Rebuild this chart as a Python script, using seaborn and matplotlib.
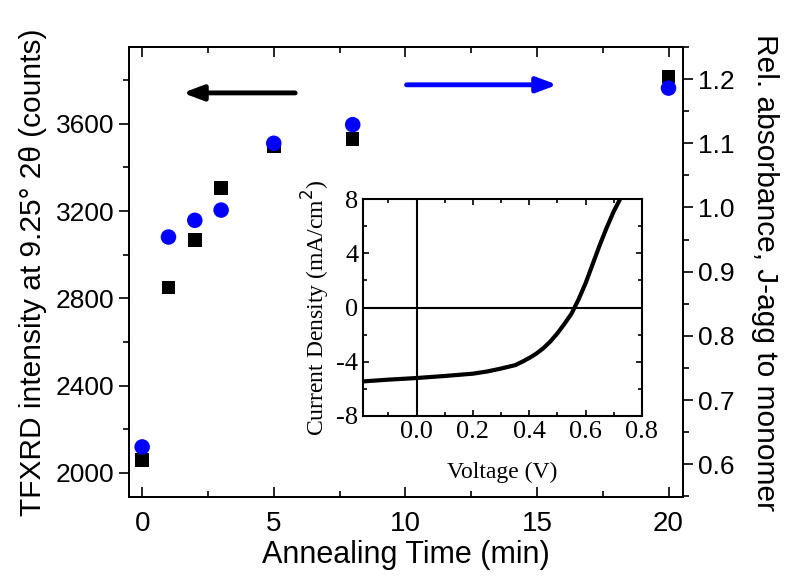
import numpy as np
import pandas as pd
import seaborn as sns
import matplotlib.pyplot as plt
from matplotlib.ticker import MultipleLocator

# annealing series
anneal_time = [0, 1, 2, 3, 5, 8, 20]
tfxrd_counts = [2059, 2849, 3067, 3306, 3496, 3530, 3816]
rel_absorbance = [0.627, 0.954, 0.980, 0.996, 1.100, 1.129, 1.186]

# inset J-V curve
voltage = [-0.19, -0.1, 0.0, 0.1, 0.2, 0.25, 0.3, 0.35, 0.375, 0.4, 0.425, 0.45, 0.475, 0.5,
           0.525, 0.55, 0.575, 0.6, 0.625, 0.65, 0.675, 0.7, 0.73]
current_density = [-5.45, -5.32, -5.2, -5.05, -4.88, -4.72, -4.5, -4.25, -4.0, -3.72, -3.4,
                   -3.0, -2.5, -1.9, -1.2, -0.45, 0.6, 1.8, 3.2, 4.6, 5.9, 7.1, 8.3]

sns.set_style("ticks")
plt.rcParams['font.family'] = ['Liberation Sans', 'DejaVu Sans']
plt.rcParams['text.color'] = 'black'
plt.rcParams['axes.labelcolor'] = 'black'
plt.rcParams['xtick.color'] = 'black'
plt.rcParams['ytick.color'] = 'black'
plt.rcParams['axes.edgecolor'] = 'black'

df = pd.DataFrame({'t': anneal_time, 'xrd': tfxrd_counts, 'abs': rel_absorbance})
jv = pd.DataFrame({'V': voltage, 'J': current_density})

fig = plt.figure(figsize=(7.87, 5.8), dpi=100)
ax = fig.add_axes([129/787, 83/580, 554/787, 450/580])
ax2 = ax.twinx()

sns.scatterplot(data=df, x='t', y='xrd', ax=ax, marker='s', s=95, color='black',
                edgecolor='none', zorder=3)
sns.scatterplot(data=df, x='t', y='abs', ax=ax2, marker='o', s=125, color='blue',
                edgecolor='none', zorder=3)

ax.set_xlim(-0.5, 20.55)
ax.set_ylim(1890, 3952)
ax2.set_ylim(0.549, 1.25)
ax.xaxis.set_major_locator(MultipleLocator(5))
ax.xaxis.set_minor_locator(MultipleLocator(2.5))
ax.yaxis.set_major_locator(MultipleLocator(400))
ax.yaxis.set_minor_locator(MultipleLocator(200))
ax2.yaxis.set_major_locator(MultipleLocator(0.1))
ax2.yaxis.set_minor_locator(MultipleLocator(0.05))
ax2.yaxis.set_major_formatter(plt.FormatStrFormatter('%.1f'))

ax.tick_params(axis='x', which='both', direction='in', top=True, labelsize=20, pad=10)
ax.tick_params(axis='x', which='major', length=7, width=1.2)
ax.tick_params(axis='x', which='minor', length=4, width=1.2)
ax.tick_params(axis='y', which='both', direction='out', labelsize=19)
ax.tick_params(axis='y', which='major', length=7, width=1.2)
ax.tick_params(axis='y', which='minor', length=4, width=1.2)
ax2.tick_params(axis='y', which='both', direction='out', labelsize=19)
ax2.tick_params(axis='y', which='major', length=7, width=1.2)
ax2.tick_params(axis='y', which='minor', length=4, width=1.2)
for a in (ax, ax2):
    for sp in a.spines.values():
        sp.set_linewidth(1.3)
        sp.set_visible(True)

ax.set_xlabel("Annealing Time (min)", fontsize=22, labelpad=2)
ax.set_ylabel("TFXRD intensity at 9.25° 2θ (counts)", fontsize=21.5, labelpad=6)
ax2.set_ylabel("Rel. absorbance, J-agg to monomer", fontsize=21.5, rotation=270, labelpad=32)

# direction arrows
ax.annotate("", xy=(0.092, 0.898), xytext=(0.305, 0.898), xycoords='axes fraction',
            arrowprops=dict(arrowstyle='-|>,head_length=1.2,head_width=0.45', color='black', lw=3.5))
ax.annotate("", xy=(0.778, 0.916), xytext=(0.496, 0.916), xycoords='axes fraction',
            arrowprops=dict(arrowstyle='-|>,head_length=1.2,head_width=0.45', color='blue', lw=3.5))

# inset
ins = fig.add_axes([363/787, 164/580, 279/787, 217/580])
sns.lineplot(data=jv, x='V', y='J', ax=ins, color='black', lw=3)
ins.axhline(0, color='black', lw=1.5)
ins.axvline(0, color='black', lw=1.5)
ins.set_xlim(-0.19, 0.8)
ins.set_ylim(-8, 8)
ins.xaxis.set_major_locator(MultipleLocator(0.2))
ins.xaxis.set_minor_locator(MultipleLocator(0.1))
ins.yaxis.set_major_locator(MultipleLocator(4))
ins.yaxis.set_minor_locator(MultipleLocator(2))
ins.xaxis.set_major_formatter(plt.FormatStrFormatter('%.1f'))
ins.yaxis.set_major_formatter(plt.FormatStrFormatter('%d'))
ins.tick_params(which='both', direction='in', top=True, right=True, labelsize=19,
                width=1.2, labelfontfamily='Liberation Serif')
ins.tick_params(which='major', length=4)
ins.tick_params(which='minor', length=3)
for sp in ins.spines.values():
    sp.set_linewidth(1.5)
ins.set_xlabel("Voltage (V)", fontsize=17, family='Liberation Serif', labelpad=14)
ins.set_ylabel("Current Density (mA/cm$^2$)", fontsize=17, family='Liberation Serif', labelpad=3)

plt.savefig("out.png", dpi=100)
